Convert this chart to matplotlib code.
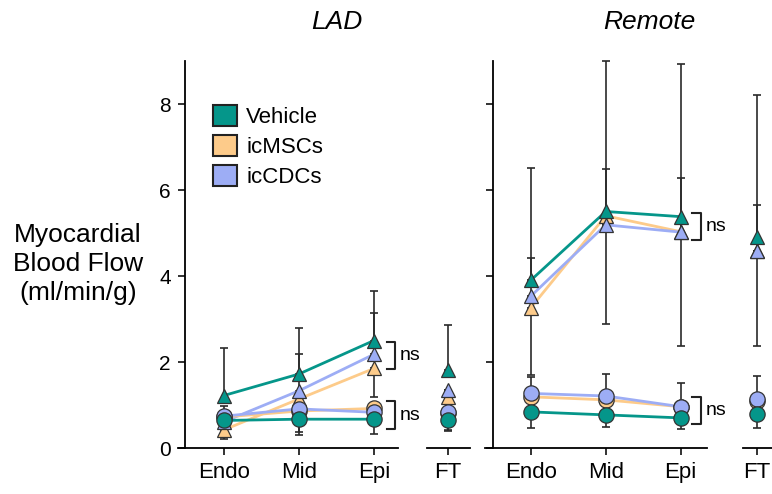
import numpy as np
import matplotlib
matplotlib.use('Agg')
import matplotlib.pyplot as plt
from matplotlib.patches import Patch

plt.rcParams['font.family'] = ['Liberation Sans', 'DejaVu Sans']

#data
layers = ['Endo', 'Mid', 'Epi']
groups = ['Vehicle', 'icMSCs', 'icCDCs']
colors = {'Vehicle': '#05968a', 'icMSCs': '#fdcb8a', 'icCDCs': '#9dadf5'}

# triangles / circles, values for Endo, Mid, Epi and then FT
lad_tri = {'Vehicle': [1.22, 1.72, 2.50], 'icMSCs': [0.42, 1.14, 1.85], 'icCDCs': [0.61, 1.33, 2.18]}
lad_tri_ft = {'Vehicle': 1.81, 'icMSCs': 1.19, 'icCDCs': 1.36}
lad_circ = {'Vehicle': [0.64, 0.67, 0.67], 'icMSCs': [0.72, 0.86, 0.92], 'icCDCs': [0.74, 0.91, 0.83]}
lad_circ_ft = {'Vehicle': 0.65, 'icMSCs': 0.81, 'icCDCs': 0.83}

rem_tri = {'Vehicle': [3.90, 5.50, 5.38], 'icMSCs': [3.26, 5.40, 5.03], 'icCDCs': [3.53, 5.19, 5.02]}
rem_tri_ft = {'Vehicle': 4.91, 'icMSCs': 4.57, 'icCDCs': 4.58}
rem_circ = {'Vehicle': [0.84, 0.77, 0.70], 'icMSCs': [1.19, 1.12, 0.96], 'icCDCs': [1.27, 1.21, 0.96]}
rem_circ_ft = {'Vehicle': 0.78, 'icMSCs': 1.09, 'icCDCs': 1.14}

# error bars (lower, upper) per point, Endo/Mid/Epi/FT
lad_tri_err = {'Vehicle': ([0.17, 0, 0, 0], [1.11, 1.07, 1.16, 1.04]),
               'icMSCs': ([0.21, 0, 0.67, 0], [0, 0, 0, 0]),
               'icCDCs': ([0, 0, 0, 0], [0, 0.85, 0.97, 0])}
lad_circ_err = {'Vehicle': ([0, 0.29, 0.34, 0.23], [0.33, 0, 0, 0]),
                'icMSCs': ([0, 0.56, 0, 0.41], [0, 0, 0, 0]),
                'icCDCs': ([0, 0, 0, 0], [0, 0, 0, 0])}
rem_tri_err = {'Vehicle': ([0, 2.62, 3.01, 2.54], [2.62, 3.50, 3.55, 3.31]),
               'icMSCs': ([1.56, 0, 0, 0], [0, 1.08, 1.25, 1.09]),
               'icCDCs': ([0, 0, 0, 0], [0.90, 0, 0, 0])}
rem_circ_err = {'Vehicle': ([0.37, 0.28, 0.26, 0.31], [0, 0, 0, 0]),
                'icMSCs': ([0, 0, 0, 0], [0, 0, 0, 0]),
                'icCDCs': ([0, 0, 0, 0], [0.38, 0.51, 0.56, 0.54])}

W, H = 772, 494
fig = plt.figure(figsize=(W/100, H/100), dpi=100)

def px_ax(x0, x1):
    return fig.add_axes([x0/W, 1-448/H, (x1-x0)/W, (448-61)/H])

ax_lad = px_ax(178, 398)
ax_ladft = px_ax(427, 470)
ax_rem = px_ax(485, 707)
ax_remft = px_ax(743, 772)

ax_lad.set_xlim(-0.61, 2.32)
ax_ladft.set_xlim(-0.28, 0.293)
ax_rem.set_xlim(-0.61, 2.35)
ax_remft.set_xlim(-0.183, 0.204)

for ax in [ax_lad, ax_ladft, ax_rem, ax_remft]:
    ax.set_ylim(0, 9)
    ax.spines['top'].set_visible(False)
    ax.spines['right'].set_visible(False)
    ax.spines['bottom'].set_linewidth(1.3)
    ax.spines['left'].set_linewidth(1.3)
    ax.tick_params(width=1.3, length=5, colors='#222222', labelcolor='black', labelsize=16, pad=5)
    ax.set_facecolor('none')

for ax in [ax_ladft, ax_remft]:
    ax.spines['left'].set_visible(False)
    ax.set_yticks([])
    ax.set_xticks([0])
    ax.set_xticklabels(['FT'])

ax_lad.spines['left'].set_position(('data', -0.52))
ax_rem.spines['left'].set_position(('data', -0.50))
for ax in [ax_lad, ax_rem]:
    ax.set_xticks([0, 1, 2])
    ax.set_xticklabels(layers)
    ax.set_yticks([0, 2, 4, 6, 8])
ax_lad.tick_params(axis='y', labelsize=15)
ax_rem.set_yticklabels([])

def draw(ax, axft, tri, tri_ft, circ, circ_ft, tri_err, circ_err):
    x = np.arange(3)
    for vals, ftv, errs, mk, ms in [(tri, tri_ft, tri_err, '^', 10), (circ, circ_ft, circ_err, 'o', 11)]:
        for g in ['icMSCs', 'icCDCs', 'Vehicle']:
            lo, hi = errs[g]
            ax.errorbar(x, vals[g], yerr=[lo[:3], hi[:3]], fmt='none', ecolor='#2a2a2a',
                        elinewidth=1.2, capsize=3, capthick=1.2, zorder=2, clip_on=False)
            axft.errorbar([0], [ftv[g]], yerr=[[lo[3]], [hi[3]]], fmt='none', ecolor='#2a2a2a',
                          elinewidth=1.2, capsize=3, capthick=1.2, zorder=2, clip_on=False)
        for g in ['icMSCs', 'icCDCs', 'Vehicle']:
            ax.plot(x, vals[g], color=colors[g], lw=2, zorder=3, clip_on=False)
            ax.plot(x, vals[g], mk, ms=ms, mfc=colors[g], mec='#333333', mew=0.9, zorder=4, clip_on=False)
            axft.plot([0], [ftv[g]], mk, ms=ms, mfc=colors[g], mec='#333333', mew=0.9, zorder=4, clip_on=False)

draw(ax_lad, ax_ladft, lad_tri, lad_tri_ft, lad_circ, lad_circ_ft, lad_tri_err, lad_circ_err)
draw(ax_rem, ax_remft, rem_tri, rem_tri_ft, rem_circ, rem_circ_ft, rem_tri_err, rem_circ_err)

def bracket(ax, x0, x1, y0, y1, tx):
    ax.plot([x0, x1, x1, x0], [y1, y1, y0, y0], color='#222222', lw=1.5, clip_on=False)
    ax.text(tx, (y0+y1)/2, 'ns', fontsize=14, va='center', ha='left', clip_on=False)

bracket(ax_lad, 2.17, 2.28, 1.83, 2.47, 2.34)
bracket(ax_lad, 2.17, 2.28, 0.44, 1.09, 2.34)
bracket(ax_rem, 2.15, 2.27, 4.84, 5.47, 2.33)
bracket(ax_rem, 2.15, 2.27, 0.56, 1.18, 2.33)

handles = [Patch(facecolor=colors[g], edgecolor='#222222', lw=1.5, label=g) for g in groups]
ax_lad.legend(handles=handles, loc='upper left', bbox_to_anchor=((213-178)/220, 1-(105-61)/387),
              frameon=False, fontsize=16, handlelength=1.1, handleheight=1.1,
              labelspacing=0.3, handletextpad=0.4, borderpad=0, borderaxespad=0)

fig.text(337/W, 1-22/H, 'LAD', fontsize=19, style='italic', ha='center', va='center')
fig.text(649/W, 1-22/H, 'Remote', fontsize=19, style='italic', ha='center', va='center')
fig.text(78/W, 1-264/H, 'Myocardial\nBlood Flow\n(ml/min/g)', fontsize=19, ha='center', va='center',
         linespacing=1.25)

plt.savefig('out.png', dpi=100)
